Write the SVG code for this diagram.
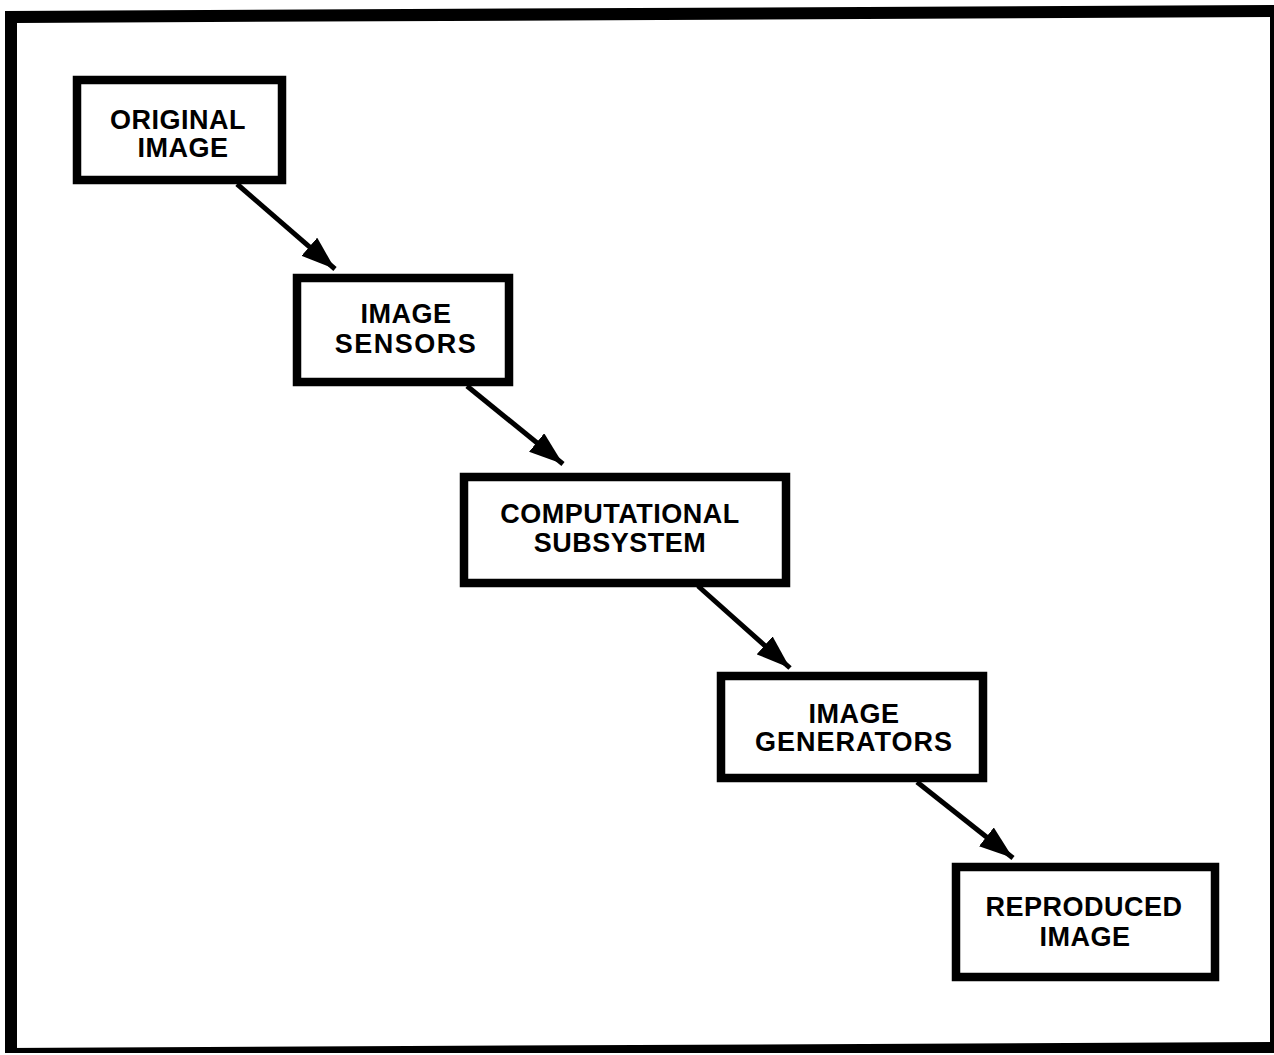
<svg xmlns="http://www.w3.org/2000/svg" width="1274" height="1055" viewBox="0 0 1274 1055">
<style>
.box{fill:#fff;stroke:#000;stroke-width:8.5}
.lbl{font-family:"Liberation Sans",Arial,sans-serif;font-weight:bold;font-size:27px;fill:#000;text-anchor:middle}
.conn{stroke:#000;stroke-width:5;fill:none}
.frame{fill:#000}
</style>
<defs>
<marker id="ah" markerUnits="userSpaceOnUse" markerWidth="36" markerHeight="24" refX="34" refY="12" orient="auto">
<path d="M0,0 L34,12 L0,24 Z" fill="#000"/>
</marker>
</defs>
<rect width="1274" height="1055" fill="#fff"/>
<g id="frame">
<polygon class="frame" points="5,11 1274,5 1274,17 17,23"/>
<polygon class="frame" points="5,11 17,11 17,1052 5,1052"/>
<polygon class="frame" points="1270,5 1274,5 1274,1053 1270,1053"/>
<polygon class="frame" points="5,1048 1274,1042 1274,1053 5,1053"/>
</g>
<g id="connectors">
<line class="conn" x1="237" y1="184" x2="335" y2="269" marker-end="url(#ah)"/>
<line class="conn" x1="467" y1="386" x2="563" y2="464" marker-end="url(#ah)"/>
<line class="conn" x1="698" y1="586" x2="790" y2="668" marker-end="url(#ah)"/>
<line class="conn" x1="917" y1="782" x2="1013" y2="858" marker-end="url(#ah)"/>
</g>
<g id="original-image">
<rect class="box" x="77" y="80" width="205" height="100"/>
<text class="lbl" x="178" y="129" letter-spacing="0.5">ORIGINAL</text>
<text class="lbl" x="183" y="157" letter-spacing="0.5">IMAGE</text>
</g>
<g id="image-sensors">
<rect class="box" x="297" y="278" width="212" height="104"/>
<text class="lbl" x="406" y="323" letter-spacing="0.5">IMAGE</text>
<text class="lbl" x="406" y="353" letter-spacing="1.5">SENSORS</text>
</g>
<g id="computational-subsystem">
<rect class="box" x="464" y="477" width="322" height="106"/>
<text class="lbl" x="620" y="523" letter-spacing="0.5">COMPUTATIONAL</text>
<text class="lbl" x="620" y="552" letter-spacing="0.5">SUBSYSTEM</text>
</g>
<g id="image-generators">
<rect class="box" x="721" y="676" width="262" height="102"/>
<text class="lbl" x="854" y="723" letter-spacing="0.5">IMAGE</text>
<text class="lbl" x="854" y="751" letter-spacing="1">GENERATORS</text>
</g>
<g id="reproduced-image">
<rect class="box" x="956" y="867" width="259" height="110"/>
<text class="lbl" x="1084" y="916" letter-spacing="0.5">REPRODUCED</text>
<text class="lbl" x="1085" y="946" letter-spacing="0.5">IMAGE</text>
</g>
</svg>
